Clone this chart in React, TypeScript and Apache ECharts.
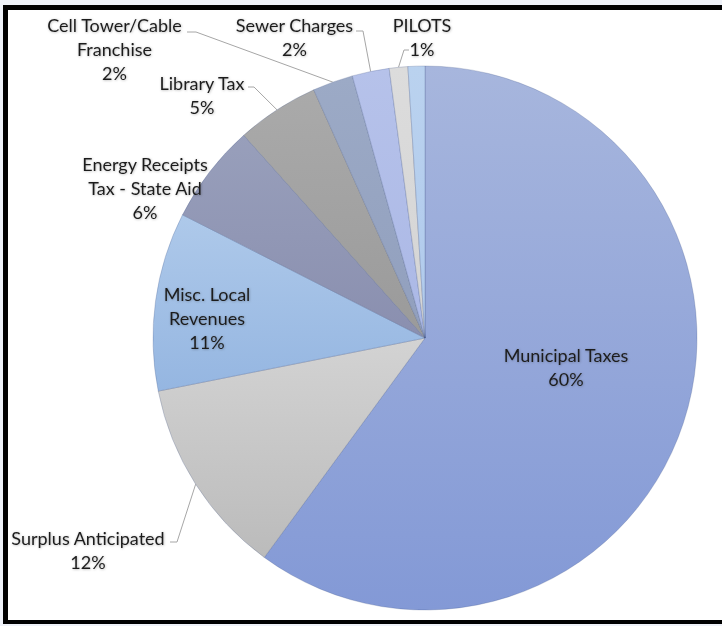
import React, { useEffect, useRef } from "react";
import * as echarts from "echarts";

const categories = [
  "Municipal Taxes",
  "Surplus Anticipated",
  "Misc. Local Revenues",
  "Energy Receipts Tax - State Aid",
  "Library Tax",
  "Cell Tower/Cable Franchise",
  "Sewer Charges",
  "PILOTS",
  "Other",
];
const labelTexts = [
  "Municipal Taxes",
  "Surplus Anticipated",
  "Misc. Local\nRevenues",
  "Energy Receipts\nTax - State Aid",
  "Library Tax",
  "Cell Tower/Cable\nFranchise",
  "Sewer Charges",
  "PILOTS",
  "",
];
const values = [60.0, 11.8, 10.6, 5.9, 4.9, 2.4, 2.2, 1.1, 1.0];

const colorsTop = ["#A7B6DD", "#D3D3D3", "#AEC9EA", "#989FBB", "#AAAAAA", "#9CAAC6", "#B6C2EA", "#DCDCDC", "#BAD2EF"];
const colorsBottom = ["#8399D6", "#BBBBBB", "#95B6E1", "#8A8FAF", "#9A9A9A", "#919FBD", "#ABB8E6", "#D4D4D4", "#B0CAEC"];

// layout (positions only)
const CX = 425;
const CY = 338;
const R = 272;
const insideIdx = [0, 2];
const noLineIdx = [3];
const labelPos: (number[] | null)[] = [
  [566, 367],
  [88, 549.5],
  [207, 317.5],
  [145, 187.5],
  [202, 95],
  [114.5, 48.5],
  [294.5, 36.5],
  [422, 36.5],
  null,
];
const leaderTail: (number[][] | null)[] = [
  null,
  [[177, 542], [170, 542]],
  null,
  null,
  [[254, 87], [248, 87]],
  [[196, 32], [187, 32]],
  [[363, 31], [356, 31]],
  [[404, 50], [409, 50]],
  null,
];

export default function App() {
  const ref = useRef<HTMLDivElement>(null);
  useEffect(() => {
    if (!ref.current) return;
    const chart = echarts.init(ref.current, null, { renderer: "svg" });
    const total = values.reduce((a, b) => a + b, 0);
    const edgePoint = (i: number) => {
      let s = 0;
      for (let j = 0; j < i; j++) s += values[j];
      const a = ((s + values[i] / 2) / total) * Math.PI * 2;
      return [CX + R * Math.sin(a), CY - R * Math.cos(a)];
    };
    const data = values.map((v, i) => ({
      name: categories[i],
      value: v,
      itemStyle: {
        color: new echarts.graphic.LinearGradient(0, 0, 0, 1, [
          { offset: 0, color: colorsTop[i] },
          { offset: 1, color: colorsBottom[i] },
        ]),
      },
      label: {
        show: labelTexts[i] !== "",
        position: insideIdx.includes(i) ? "inside" : "outside",
      },
      labelLine: {
        show: !insideIdx.includes(i) && !noLineIdx.includes(i) && labelTexts[i] !== "",
      },
    }));
    chart.setOption({
      animation: false,
      backgroundColor: "transparent",
      graphic: [
        { type: "rect", z: -10, shape: { x: 0, y: 0, width: 722, height: 626 }, style: { fill: "#EEF1F8" } },
        { type: "rect", z: -9, shape: { x: 3, y: 5, width: 719, height: 619 }, style: { fill: "#000000" } },
        { type: "rect", z: -8, shape: { x: 8, y: 10, width: 714, height: 610 }, style: { fill: "#FFFFFF" } },
      ],
      series: [
        {
          type: "pie",
          center: [CX, CY],
          radius: R,
          startAngle: 90,
          clockwise: true,
          avoidLabelOverlap: false,
          data,
          itemStyle: { borderColor: "rgba(60,80,130,0.3)", borderWidth: 0.8 },
          label: {
            fontFamily: "Lato",
            fontSize: 18,
            lineHeight: 24,
            color: "#1E1E1E",
            align: "center",
            textShadowColor: "rgba(0,0,0,0.3)",
            textShadowBlur: 2,
            textShadowOffsetX: 0.5,
            textShadowOffsetY: 0.5,
            formatter: (p: any) => `${labelTexts[p.dataIndex]}\n${Math.round(p.percent)}%`,
          },
          labelLine: {
            lineStyle: { color: "#A6A6A6", width: 1 },
          },
          emphasis: { disabled: true },
          labelLayout: (p: any) => {
            const i = p.dataIndex;
            const L = labelPos[i];
            if (!L) return {};
            const res: any = { x: L[0], y: L[1], align: "center", verticalAlign: "middle" };
            const tail = leaderTail[i];
            if (tail) res.labelLinePoints = [edgePoint(i), ...tail];
            return res;
          },
        },
      ],
    });
    return () => chart.dispose();
  }, []);
  return (
    <div
      ref={ref}
      style={{ position: "fixed", left: 0, top: 0, width: 722, height: 626 }}
    />
  );
}
